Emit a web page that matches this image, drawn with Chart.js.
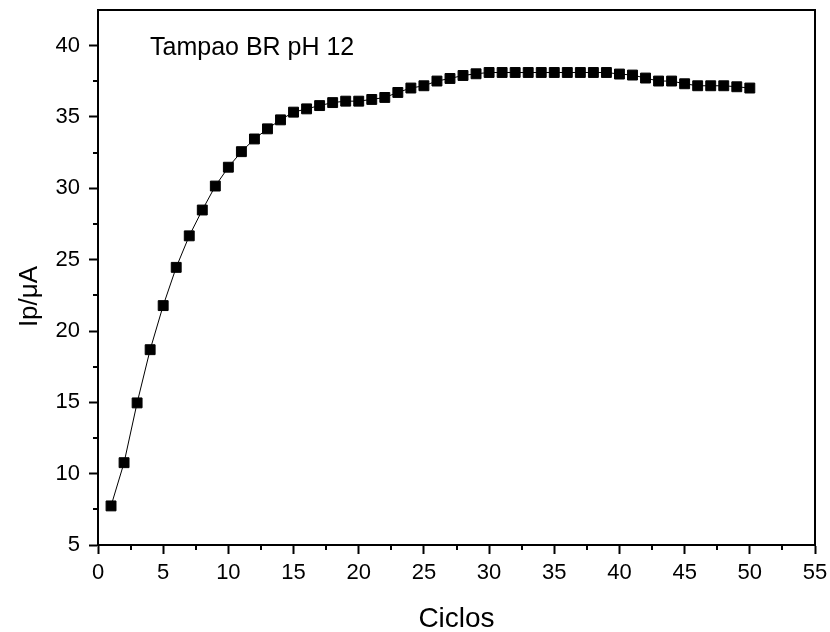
<!DOCTYPE html>
<html>
<head>
<meta charset="utf-8">
<script src="https://cdn.jsdelivr.net/npm/chart.js@4.4.1/dist/chart.umd.min.js"></script>
<style>
  html, body { margin: 0; padding: 0; background: #fff; }
  #wrap { width: 830px; height: 632px; position: relative; }
</style>
</head>
<body>
<div id="wrap"><canvas id="cvChart"></canvas></div>
<script>
// Ip vs cycles, Tampao BR pH 12
const ciclos = [1, 2, 3, 4, 5, 6, 7, 8, 9, 10,
    11, 12, 13, 14, 15, 16, 17, 18, 19, 20,
    21, 22, 23, 24, 25, 26, 27, 28, 29, 30,
    31, 32, 33, 34, 35, 36, 37, 38, 39, 40,
    41, 42, 43, 44, 45, 46, 47, 48, 49, 50];

const ipValues = [7.74, 10.77, 14.96, 18.69, 21.78, 24.46, 26.67, 28.48, 30.16, 31.48,
    32.57, 33.46, 34.17, 34.80, 35.34, 35.57, 35.80, 36.01, 36.11, 36.11,
    36.23, 36.37, 36.72, 37.03, 37.19, 37.52, 37.70, 37.91, 38.03, 38.12,
    38.12, 38.12, 38.12, 38.12, 38.12, 38.12, 38.12, 38.12, 38.12, 38.01,
    37.94, 37.73, 37.52, 37.52, 37.33, 37.19, 37.19, 37.19, 37.12, 37.03];

const xTicks = [0, 5, 10, 15, 20, 25, 30, 35, 40, 45, 50, 55];
const yTicks = [5, 10, 15, 20, 25, 30, 35, 40];
const xMinor = [2.5, 7.5, 12.5, 17.5, 22.5, 27.5, 32.5, 37.5, 42.5, 47.5, 52.5];
const yMinor = [7.5, 12.5, 17.5, 22.5, 27.5, 32.5, 37.5];

const noteText = "Tampao BR pH 12";
const yTitle = "Ip/\u03bcA";

const FONT = "'Liberation Sans', Arial, sans-serif";

const points = ciclos.map((c, i) => ({ x: c, y: ipValues[i] }));

// frame, minor ticks, y title and note
const framePlugin = {
    id: "frame",
    afterDraw(chart) {
        const ctx = chart.ctx;
        const a = chart.chartArea;
        const xs = chart.scales.x;
        const ys = chart.scales.y;
        ctx.save();
        ctx.strokeStyle = "#000";
        ctx.lineWidth = 2;
        ctx.strokeRect(a.left, a.top, a.right - a.left, a.bottom - a.top);

        ctx.beginPath();
        xMinor.forEach(v => {
            const px = Math.round(xs.getPixelForValue(v));
            ctx.moveTo(px, a.bottom);
            ctx.lineTo(px, a.bottom + 5);
        });
        yMinor.forEach(v => {
            const py = Math.round(ys.getPixelForValue(v));
            ctx.moveTo(a.left, py);
            ctx.lineTo(a.left - 5, py);
        });
        ctx.stroke();

        ctx.fillStyle = "#000";
        ctx.font = "25px " + FONT;
        ctx.textBaseline = "alphabetic";
        ctx.textAlign = "left";
        ctx.fillText(noteText, 150, 55);

        // y axis title, sits a bit below the plot centre in the original
        ctx.translate(30, (a.top + a.bottom) / 2 + 19);
        ctx.rotate(-Math.PI / 2);
        ctx.font = "26px " + FONT;
        ctx.textAlign = "center";
        ctx.textBaseline = "middle";
        ctx.fillText(yTitle, 0, 0);
        ctx.restore();
    }
};

function noPad(scale) {
    scale.paddingLeft = 0;
    scale.paddingRight = 0;
    scale.paddingTop = 0;
    scale.paddingBottom = 0;
}

new Chart(document.getElementById("cvChart"), {
    type: "line",
    data: {
        datasets: [{
            data: points,
            borderColor: "#000",
            borderWidth: 1,
            backgroundColor: "#000",
            pointStyle: "rect",
            pointRadius: 7,
            pointBorderWidth: 1,
            pointBorderColor: "#000",
            pointBackgroundColor: "#000",
            tension: 0,
            clip: false
        }]
    },
    options: {
        responsive: true,
        maintainAspectRatio: false,
        animation: false,
        layout: { padding: { left: 0, top: 10, right: 15, bottom: -4 } },
        plugins: {
            legend: { display: false },
            tooltip: { enabled: false }
        },
        scales: {
            x: {
                type: "linear",
                min: 0,
                max: 55,
                afterFit(scale) { scale.height = 91; noPad(scale); },
                afterBuildTicks(scale) { scale.ticks = xTicks.map(v => ({ value: v })); },
                grid: { drawOnChartArea: false, drawTicks: true, tickLength: 9, tickWidth: 2, tickColor: "#000" },
                border: { display: true, color: "#000", width: 2 },
                ticks: { color: "#000", padding: 6, maxRotation: 0, font: { family: FONT, size: 22 } },
                title: {
                    display: true,
                    text: "Ciclos",
                    color: "#000",
                    padding: { top: 0, bottom: 0 },
                    font: { family: FONT, size: 28 }
                }
            },
            y: {
                type: "linear",
                min: 5,
                max: 42.5,
                afterFit(scale) { scale.width = 98; noPad(scale); },
                afterBuildTicks(scale) { scale.ticks = yTicks.map(v => ({ value: v })); },
                grid: { drawOnChartArea: false, drawTicks: true, tickLength: 9, tickWidth: 2, tickColor: "#000" },
                border: { display: true, color: "#000", width: 2 },
                ticks: { color: "#000", padding: 9, font: { family: FONT, size: 22 } },
                title: { display: false }
            }
        }
    },
    plugins: [framePlugin]
});
</script>
</body>
</html>
